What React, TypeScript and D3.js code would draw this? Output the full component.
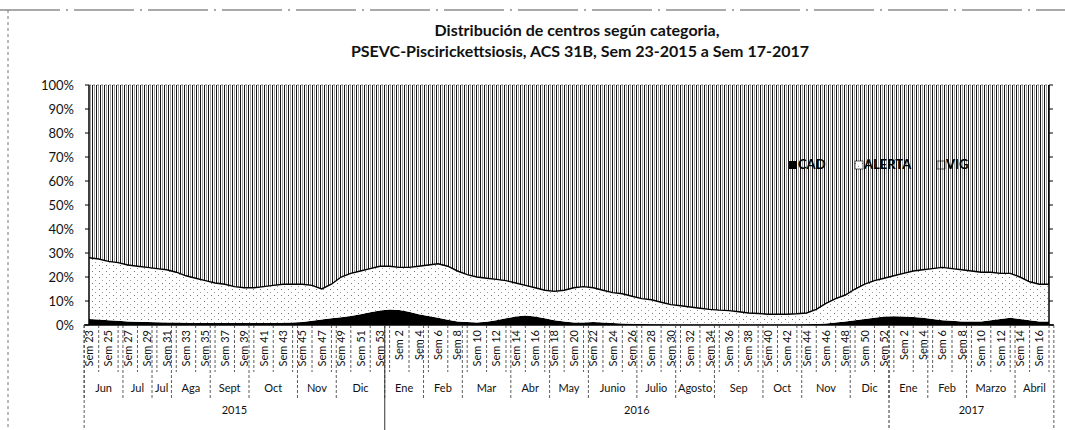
import React from "react";
import * as d3 from "d3";

// semanas Sem 23-2015 .. Sem 17-2017
const years = ["2015", "2016", "2017"];
const yearWeeks = [d3.range(23, 54), d3.range(1, 53), d3.range(1, 18)];

const monthNames = [
  "Jun", "Jul", "Jul", "Aga", "Sept", "Oct", "Nov", "Dic",
  "Ene", "Feb", "Mar", "Abr", "May", "Junio", "Julio", "Agosto", "Sep", "Oct", "Nov", "Dic",
  "Ene", "Feb", "Marzo", "Abril",
];
const monthCounts = [4, 3, 2, 4, 4, 5, 4, 5, 4, 4, 5, 4, 4, 5, 4, 4, 5, 4, 5, 4, 4, 4, 5, 4];

// % de centros por categoria
const cad = [
  2.5, 2.3, 2.0, 1.8, 1.5, 1.4, 1.2, 1.1, 1.0, 1.0,
  0.9, 0.8, 0.8, 0.8, 0.8, 0.8, 0.8, 0.8, 0.8, 0.8,
  0.9, 1.0, 1.3, 1.8, 2.3, 2.8, 3.2, 3.8, 4.5, 5.3,
  6.0, 6.5, 6.2, 5.5, 4.5, 3.8, 3.0, 2.2, 1.5, 1.2,
  1.0, 1.4, 2.0, 2.8, 3.5, 4.0, 3.5, 2.8, 2.0, 1.5,
  1.0, 1.0, 1.2, 1.0, 0.8, 0.6, 0.5, 0.4, 0.3, 0.3,
  0.2, 0.2, 0.2, 0.2, 0.2, 0.2, 0.2, 0.2, 0.2, 0.2,
  0.2, 0.2, 0.2, 0.2, 0.3, 0.4, 0.6, 1.0, 1.5, 2.0,
  2.5, 3.0, 3.5, 3.6, 3.5, 3.3, 3.0, 2.5, 2.0, 1.8,
  1.5, 1.5, 1.5, 2.0, 2.5, 3.0, 2.5, 2.0, 1.5, 1.5,
];
const alerta = [
  25.5, 25.2, 24.5, 24.2, 23.5, 23.1, 22.8, 22.4, 22.0, 21.0,
  19.6, 18.7, 17.7, 16.7, 16.2, 15.2, 14.7, 14.7, 15.2, 15.7,
  16.1, 16.0, 15.7, 14.7, 12.7, 14.2, 16.8, 17.7, 18.0, 18.2,
  18.5, 18.0, 17.8, 18.5, 20.0, 21.2, 22.5, 22.3, 21.0, 19.8,
  19.0, 18.1, 17.0, 15.7, 14.0, 12.5, 12.0, 11.7, 12.0, 13.0,
  14.5, 15.0, 14.3, 13.5, 12.7, 12.4, 11.5, 10.6, 10.2, 9.2,
  8.3, 7.8, 7.3, 6.8, 6.3, 6.0, 5.8, 5.3, 4.8, 4.6,
  4.3, 4.3, 4.3, 4.5, 4.7, 6.1, 8.4, 10.0, 11.0, 13.0,
  14.5, 15.5, 16.0, 16.9, 18.0, 19.2, 20.0, 21.0, 22.0, 21.7,
  21.5, 21.0, 20.5, 20.0, 19.0, 18.5, 17.5, 16.0, 15.5, 15.5,
];
const vig = [
  72.0, 72.5, 73.5, 74.0, 75.0, 75.5, 76.0, 76.5, 77.0, 78.0,
  79.5, 80.5, 81.5, 82.5, 83.0, 84.0, 84.5, 84.5, 84.0, 83.5,
  83.0, 83.0, 83.0, 83.5, 85.0, 83.0, 80.0, 78.5, 77.5, 76.5,
  75.5, 75.5, 76.0, 76.0, 75.5, 75.0, 74.5, 75.5, 77.5, 79.0,
  80.0, 80.5, 81.0, 81.5, 82.5, 83.5, 84.5, 85.5, 86.0, 85.5,
  84.5, 84.0, 84.5, 85.5, 86.5, 87.0, 88.0, 89.0, 89.5, 90.5,
  91.5, 92.0, 92.5, 93.0, 93.5, 93.8, 94.0, 94.5, 95.0, 95.2,
  95.5, 95.5, 95.5, 95.3, 95.0, 93.5, 91.0, 89.0, 87.5, 85.0,
  83.0, 81.5, 80.5, 79.5, 78.5, 77.5, 77.0, 76.5, 76.0, 76.5,
  77.0, 77.5, 78.0, 78.0, 78.5, 78.5, 80.0, 82.0, 83.0, 83.0,
];

const yTicks = [0, 10, 20, 30, 40, 50, 60, 70, 80, 90, 100];
const keys = ["CAD", "ALERTA", "VIG"];

const FONT = "Lato, 'Open Sans', sans-serif";

export default function App() {
  const W = 1065, H = 430;
  const left = 89, right = 1049, top = 85, bottom = 325;

  const weeks: { id: string; year: string; week: number }[] = [];
  years.forEach((yr, i) => yearWeeks[i].forEach((w) => weeks.push({ id: `${yr}-${w}`, year: yr, week: w })));

  const rows = weeks.map((w, i) => ({ id: w.id, CAD: cad[i], ALERTA: alerta[i], VIG: vig[i] }));
  const stack = d3.stack<any>().keys(keys).offset(d3.stackOffsetExpand);
  const series = stack(rows);

  const x = d3.scalePoint<string>().domain(weeks.map((w) => w.id)).range([left, right]);
  const step = x.step();
  const y = d3.scaleLinear().domain([0, 1]).range([bottom, top]);
  const yPct = d3.scaleLinear().domain([0, 100]).range([bottom, top]);

  const area = d3
    .area<any>()
    .x((d) => x(d.data.id)!)
    .y0((d) => y(d[0]))
    .y1((d) => y(d[1]));
  const edge = d3
    .line<any>()
    .x((d) => x(d.data.id)!)
    .y((d) => y(d[0]));

  const fills = ["#000", "url(#dots)", "url(#stripes)"];

  // groups for months / years
  const groupSpans = (counts: number[]) => {
    let acc = 0;
    return counts.map((c) => {
      const a = acc, b = acc + c - 1;
      acc += c;
      return { x0: x(weeks[a].id)! - step / 2, x1: x(weeks[b].id)! + step / 2 };
    });
  };
  const monthSpans = groupSpans(monthCounts);
  const yearSpans = groupSpans(yearWeeks.map((w) => w.length));

  // every second week gets a label
  const labelled = weeks.filter((_, i) => i % 2 === 0);
  const separators = weeks.filter((_, i) => i % 2 === 1);

  const legendItems = [
    { name: "CAD", x: 789, fill: "#000" },
    { name: "ALERTA", x: 855, fill: "url(#dots)" },
    { name: "VIG", x: 937, fill: "url(#stripes)" },
  ];

  return (
    <div style={{ position: "absolute", left: 0, top: 0 }}>
      <svg width={W} height={H} style={{ display: "block", background: "#fff" }}>
        <defs>
          <pattern id="stripes" width={4} height={4} patternUnits="userSpaceOnUse">
            <rect width={4} height={4} fill="#fff" />
            <rect x={0} width={1} height={4} fill="#151515" />
            <rect x={2} width={1} height={4} fill="#a0a0a0" />
          </pattern>
          <pattern id="dots" width={7} height={6} patternUnits="userSpaceOnUse">
            <rect width={7} height={6} fill="#fff" />
            <rect x={1} y={1} width={1} height={1} fill="#777" />
            <rect x={4} y={4} width={1} height={1} fill="#999" />
          </pattern>
        </defs>

        {/* scan frame */}
        <line x1={0} x2={W} y1={10} y2={10} stroke="#555" strokeWidth={1.2} strokeDasharray="60 6 2 6" />
        <line x1={8} x2={8} y1={10} y2={H} stroke="#777" strokeWidth={1} strokeDasharray="3 3" />

        <text x={577} y={36} textAnchor="middle" fontFamily={FONT} fontWeight="bold" fontSize={16} fill="#111">
          Distribución de centros según categoria,
        </text>
        <text x={580} y={57} textAnchor="middle" fontFamily={FONT} fontWeight="bold" fontSize={16} fill="#111">
          PSEVC-Piscirickettsiosis, ACS 31B, Sem  23-2015 a Sem 17-2017
        </text>

        {series.map((s, i) => (
          <path key={s.key} d={area(s) || ""} fill={fills[i]} />
        ))}
        <path d={edge(series[2]) || ""} fill="none" stroke="#000" strokeWidth={1.4} />

        {/* y axis */}
        <line x1={left} x2={left} y1={top} y2={bottom} stroke="#000" strokeWidth={1.5} />
        <line x1={right} x2={right} y1={top} y2={bottom} stroke="#000" strokeWidth={1.5} />
        <line x1={left} x2={right} y1={top} y2={top} stroke="#666" strokeWidth={0.8} strokeDasharray="2 2" />
        {yTicks.map((t) => (
          <g key={t}>
            <line x1={left - 4} x2={left} y1={yPct(t)} y2={yPct(t)} stroke="#000" />
            <line x1={right} x2={right + 4} y1={yPct(t)} y2={yPct(t)} stroke="#000" />
            <text x={74} y={yPct(t)} dy="0.35em" textAnchor="end" fontFamily={FONT} fontSize={13} fill="#111">
              {t}%
            </text>
          </g>
        ))}

        {/* x axis */}
        <line x1={left - 5} x2={right + 5} y1={bottom} y2={bottom} stroke="#000" strokeWidth={1.5} />
        {separators.map((w) => (
          <line key={w.id} x1={x(w.id)!} x2={x(w.id)!} y1={bottom} y2={372} stroke="#333" strokeWidth={0.8} strokeDasharray="3 2" />
        ))}
        {labelled.map((w) => (
          <text
            key={w.id}
            transform={`translate(${x(w.id)! + 4},${bottom + 5}) rotate(-90)`}
            textAnchor="end"
            fontFamily={FONT}
            fontSize={11}
            fill="#111"
          >
            {`Sem ${w.week}`}
          </text>
        ))}
        {monthSpans.map((m, i) => (
          <g key={i}>
            <line x1={m.x0} x2={m.x0} y1={bottom} y2={398} stroke="#333" strokeWidth={0.8} strokeDasharray="3 2" />
            <text x={(m.x0 + m.x1) / 2} y={392} textAnchor="middle" fontFamily={FONT} fontSize={11} fill="#111">
              {monthNames[i]}
            </text>
          </g>
        ))}
        <line x1={monthSpans[monthSpans.length - 1].x1} x2={monthSpans[monthSpans.length - 1].x1} y1={bottom} y2={H} stroke="#333" strokeWidth={0.8} strokeDasharray="3 2" />
        {yearSpans.map((s, i) => (
          <g key={years[i]}>
            <line x1={s.x0} x2={s.x0} y1={bottom} y2={H} stroke="#333" strokeWidth={i === 0 ? 0.8 : 1} strokeDasharray={i === 1 ? undefined : "3 2"} />
            <text x={(s.x0 + s.x1) / 2} y={414} textAnchor="middle" fontFamily={FONT} fontSize={11} fill="#111">
              {years[i]}
            </text>
          </g>
        ))}

        {/* legend */}
        {legendItems.map((l) => (
          <g key={l.name}>
            <rect x={l.x} y={161} width={8} height={8} fill={l.fill} stroke={l.name === "CAD" ? "none" : "#000"} strokeWidth={0.6} />
            <text x={l.x + 9} y={169} fontFamily={FONT} fontSize={13} fontWeight="bold" fill="#000">
              {l.name}
            </text>
          </g>
        ))}
      </svg>
    </div>
  );
}
